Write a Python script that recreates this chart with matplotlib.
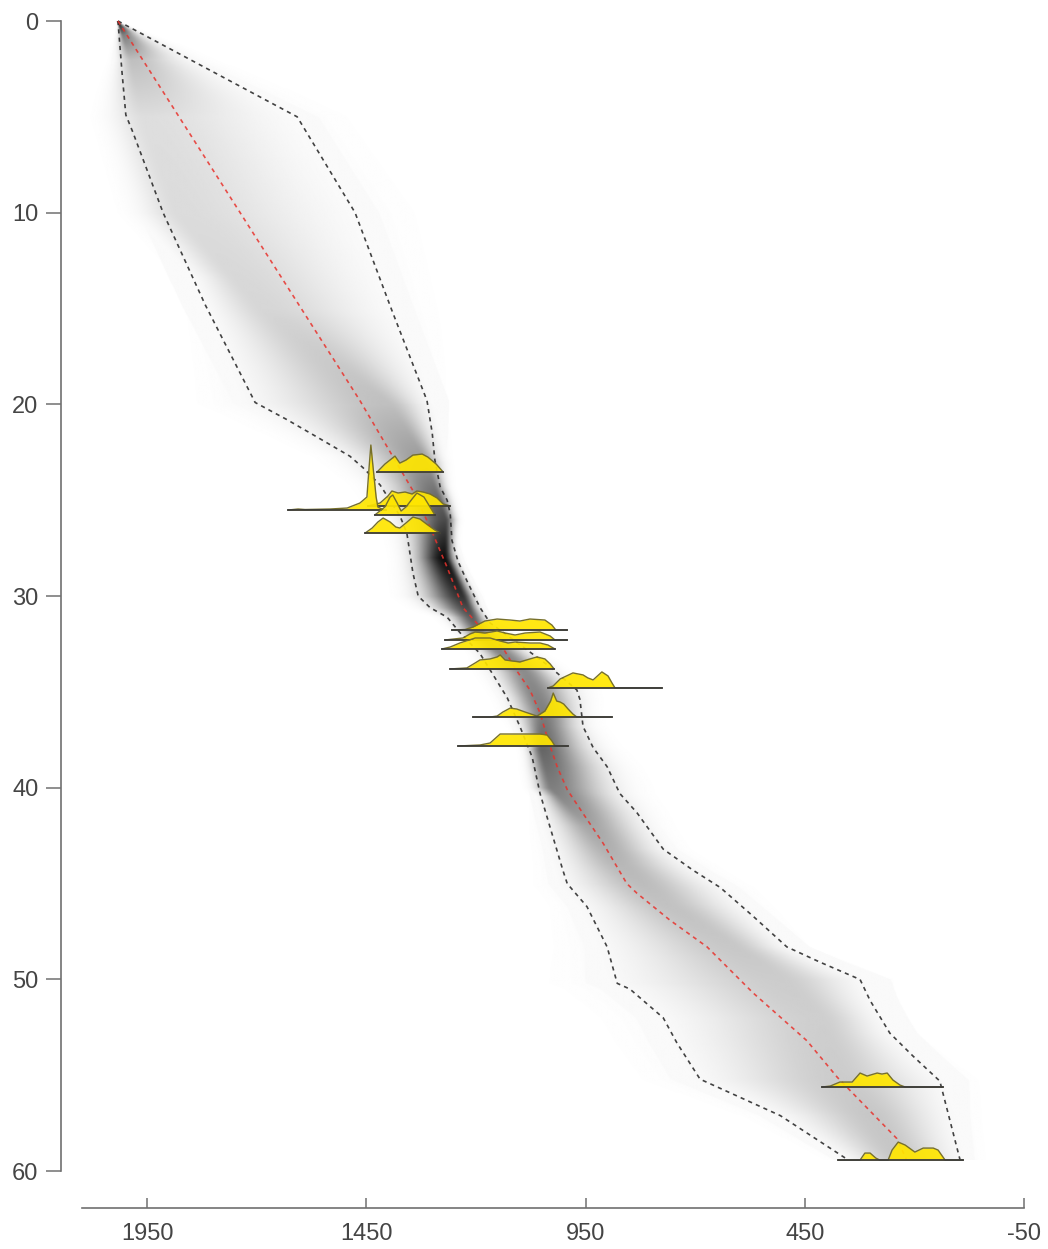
import numpy as np
import matplotlib
matplotlib.use("Agg")
import matplotlib.pyplot as plt
from matplotlib.colors import LinearSegmentedColormap

plt.rcParams["font.family"] = ["Liberation Sans", "DejaVu Sans"]

# ---- age-depth model: 95% envelope and mean (depth, age) ----
old_depth = [0, 2.6, 4.9, 5.8, 10.0, 14.8, 19.9, 20.8, 21.7, 22.7, 23.3, 24.2, 25.8,
             26.7, 28.8, 30.0, 30.6, 31.1, 31.9, 33.0, 34.0, 35.3, 36.8, 38.4, 40.3,
             44.3, 45.0, 46.2, 48.3, 50.2, 50.5, 52.0, 53.3, 55.2, 57.1, 59.4]
old_age = [2017, 2008, 1999, 1983, 1914, 1818, 1704, 1631, 1563, 1488, 1458, 1419, 1374,
           1358, 1344, 1332, 1305, 1266, 1237, 1191, 1164, 1129, 1100, 1072, 1054,
           1002, 992, 947, 901, 878, 849, 773, 742, 689, 506, 352]

young_depth = [0, 5.0, 10.0, 15.1, 19.8, 21.5, 22.9, 24.3, 25.0, 25.7, 27.1, 28.2, 29.2,
               30.6, 31.4, 32.8, 33.7, 34.9, 35.4, 36.8, 37.9, 38.9, 40.3, 41.3, 43.2,
               44.3, 45.2, 46.7, 48.3, 49.1, 50.0, 51.1, 52.8, 54.0, 55.3, 59.4]
young_age = [2017, 1608, 1476, 1392, 1312, 1300, 1294, 1282, 1266, 1259, 1255, 1241, 1221,
             1191, 1168, 1084, 1031, 970, 963, 956, 933, 901, 872, 833, 773,
             705, 643, 568, 491, 415, 324, 301, 256, 203, 142, 96]

mean_depth = [0, 19.8, 24.5, 26.4, 28.5, 30.6, 31.6, 32.7, 33.9, 34.9, 36.1, 37.5, 38.9,
              40.1, 41.1, 42.9, 45.0, 45.5, 46.9, 48.3, 50.7, 53.2, 55.1, 58.3, 59.4]
mean_age = [2017, 1465, 1344, 1305, 1266, 1230, 1191, 1139, 1107, 1077, 1054, 1036, 1015,
            992, 963, 910, 856, 833, 758, 673, 568, 445, 376, 240, 218]

# ---- grey-scale density of the model: mode and relative darkness ----
shade_depth = [0, 0.7, 2, 5, 10, 15, 20, 23, 26, 28, 30, 32, 34, 36, 38, 40, 42, 44,
               46, 48, 50, 52, 55, 57, 59.4]
shade_mode = [2017, 2005, 1985, 1955, 1875, 1682, 1400, 1317, 1271, 1273, 1232, 1191,
              1088, 1047, 1050, 1027, 940, 872, 769, 632, 506, 415, 370, 301, 233]
shade_peak = [0.9, 0.5, 0.25, 0.13, 0.14, 0.16, 0.25, 0.4, 0.7, 0.95, 0.8, 0.5, 0.45,
              0.5, 0.6, 0.5, 0.35, 0.28, 0.24, 0.22, 0.2, 0.19, 0.2, 0.22, 0.22]

# ---- calibrated dates: depth, ages and relative probability ----
date1_depth = 23.53
date1_age = [1426, 1408, 1385, 1374, 1360, 1344, 1323, 1310, 1291, 1275]
date1_dens = [0, 8, 16, 9, 12, 17, 18, 15, 8, 0]

date2_depth = 25.30
date2_age = [1447, 1419, 1401, 1392, 1378, 1362, 1346, 1335, 1321, 1305, 1289, 1275, 1259]
date2_dens = [0, 3, 10, 15, 13, 14, 12, 15, 14, 12, 8, 2, 0]

date3_depth = 25.51
date3_age = [1629, 1606, 1590, 1533, 1494, 1465, 1449, 1444, 1440, 1435, 1428, 1424, 1412, 1405]
date3_dens = [0, 1, 0.5, 1, 2, 7, 13, 43, 65, 43, 13, 3, 0.5, 0]

date4_depth = 25.77
date4_age = [1431, 1408, 1396, 1390, 1380, 1371, 1360, 1346, 1335, 1319, 1305, 1294]
date4_dens = [0, 8, 18, 20, 12, 4, 8, 16, 22, 18, 8, 0]

date5_depth = 26.71
date5_age = [1453, 1437, 1424, 1412, 1396, 1383, 1374, 1360, 1344, 1328, 1310, 1294, 1282]
date5_dens = [0, 5, 11, 15, 11, 6, 5, 10, 16, 14, 8, 3, 0]

date6_depth = 31.77
date6_age = [1255, 1225, 1207, 1180, 1152, 1122, 1100, 1077, 1043, 1027, 1018, 992]
date6_dens = [0, 0.5, 3, 9, 11, 10, 9, 11, 10, 5, 0, 0]

date7_depth = 32.29
date7_age = [1271, 1230, 1214, 1202, 1180, 1152, 1134, 1111, 1088, 1054, 1031, 1020, 992]
date7_dens = [0, 2, 6, 8, 7, 9, 7, 5, 7, 8, 4, 0, 0]

date8_depth = 32.76
date8_age = [1278, 1259, 1237, 1202, 1168, 1145, 1127, 1111, 1077, 1054, 1036, 1020]
date8_dens = [0, 2, 6, 11, 11, 8, 6, 7, 6, 6, 4, 0]

date9_depth = 33.80
date9_age = [1259, 1221, 1202, 1191, 1168, 1152, 1145, 1134, 1118, 1100, 1077, 1061, 1043, 1031, 1022]
date9_dens = [0, 1, 6, 9, 10, 12, 14, 9, 8, 7, 10, 12, 10, 5, 0]

date10_depth = 34.79
date10_age = [1036, 1024, 1008, 979, 956, 945, 933, 913, 899, 890, 883, 776]
date10_dens = [0, 2, 9, 15, 13, 10, 8, 16, 12, 5, 0, 0]

date11_depth = 36.31
date11_age = [1207, 1168, 1152, 1139, 1122, 1107, 1088, 1061, 1043, 1030, 1024, 1016,
              1008, 1000, 990, 979, 970, 890]
date11_dens = [0, 0, 1, 5, 9, 8, 5, 1, 6, 16, 24, 16, 15, 13, 8, 3, 0, 0]

date12_depth = 37.82
date12_age = [1241, 1191, 1168, 1145, 1100, 1054, 1038, 1027, 1020, 990]
date12_dens = [0, 1, 3, 12, 12, 12, 11, 5, 0, 0]

date13_depth = 55.61
date13_age = [411, 392, 370, 342, 324, 308, 285, 274, 262, 249, 233, 221, 135]
date13_dens = [0, 1, 5, 5, 14, 11, 14, 13, 14, 7, 2, 0, 0]

date14_depth = 59.42
date14_age = [374, 324, 313, 301, 288, 279, 260, 251, 237, 221, 199, 180, 157, 146, 130, 89]
date14_dens = [0, 0, 7, 7, 2, 0, 0, 10, 18, 15, 8, 12, 12, 10, 0, 0]

depth_ticks = [0, 10, 20, 30, 40, 50, 60]
age_ticks = [1950, 1450, 950, 450, -50]

dates = [
    (date1_depth, date1_age, date1_dens),
    (date2_depth, date2_age, date2_dens),
    (date3_depth, date3_age, date3_dens),
    (date4_depth, date4_age, date4_dens),
    (date5_depth, date5_age, date5_dens),
    (date6_depth, date6_age, date6_dens),
    (date7_depth, date7_age, date7_dens),
    (date8_depth, date8_age, date8_dens),
    (date9_depth, date9_age, date9_dens),
    (date10_depth, date10_age, date10_dens),
    (date11_depth, date11_age, date11_dens),
    (date12_depth, date12_age, date12_dens),
    (date13_depth, date13_age, date13_dens),
    (date14_depth, date14_age, date14_dens),
]

# ---- figure ----
W, H = 1048, 1249
fig = plt.figure(figsize=(W / 100, H / 100), dpi=100)
ax_left_px, ax_right_px, ax_top_px, ax_bot_px = 61, 1024, 15, 1208
ax = fig.add_axes([ax_left_px / W, 1 - ax_bot_px / H,
                   (ax_right_px - ax_left_px) / W, (ax_bot_px - ax_top_px) / H])

# grey-scale model density
dg = np.arange(0, 59.4 + 1e-9, 0.05)
ag = np.arange(-50, 2150.5, 1.0)
hi = np.interp(dg, old_depth, old_age)
lo = np.interp(dg, young_depth, young_age)
cen = np.interp(dg, shade_depth, shade_mode)
pk = np.interp(dg, shade_depth, shade_peak)
width = hi - lo
sl = np.maximum(np.maximum((hi - cen) / 2.0, 0.12 * width), 1.5)[:, None]
sr = np.maximum(np.maximum((cen - lo) / 2.0, 0.12 * width), 1.5)[:, None]
A = ag[None, :]
C = cen[:, None]
z = np.where(A > C, (A - C) / sl, (A - C) / sr)
img = pk[:, None] * np.exp(-0.5 * z ** 2)
ext = 0.12 * width[:, None] + 3
faint = (A < hi[:, None] + ext) & (A > lo[:, None] - ext)
img = np.where(faint, np.maximum(img, 0.022), img)

grey = LinearSegmentedColormap.from_list("wk", ["#ffffff", "#000000"])
ax.imshow(img, cmap=grey, vmin=0, vmax=1, aspect="auto", origin="upper",
          extent=[ag[0] - 0.5, ag[-1] + 0.5, dg[-1], dg[0]],
          interpolation="bilinear", zorder=1)

# envelope and mean
ax.plot(old_age, old_depth, color="#222222", lw=1.2, dashes=(2.5, 2.5), alpha=0.85, zorder=3)
ax.plot(young_age, young_depth, color="#222222", lw=1.2, dashes=(2.5, 2.5), alpha=0.85, zorder=3)
ax.plot(mean_age, mean_depth, color="#e8322c", lw=1.2, dashes=(2.5, 2.5), alpha=0.85, zorder=3)

# calibrated date distributions
dens_scale = 1 / 19.17
for i, (d, a, p) in enumerate(dates):
    a = np.asarray(a, float)
    top = d - np.asarray(p, float) * dens_scale
    z0 = 5 + i * 0.01
    ax.fill_between(a, d, top, color="#ffe600", alpha=0.92, lw=0, zorder=z0)
    ax.plot(a, top, color="#77702a", lw=1.0, zorder=z0 + 0.002)
    ax.plot([a.min(), a.max()], [d, d], color="#3a3a3a", lw=1.3, zorder=z0 + 0.004)

# axes
ax.set_xlim(2146.9, -50)
ax.set_ylim(61.92, -0.313)
for s in ["top", "right"]:
    ax.spines[s].set_visible(False)
spine_col = "#707070"
ax.spines["left"].set_bounds(0, 60)
ax.spines["bottom"].set_bounds(2100, -50)
for s in ["left", "bottom"]:
    ax.spines[s].set_color(spine_col)
    ax.spines[s].set_linewidth(1.2)

ax.set_yticks(depth_ticks)
ax.set_yticklabels([str(t) for t in depth_ticks])
ax.set_xticks(age_ticks)
ax.set_xticklabels([str(t) for t in age_ticks])
ax.tick_params(axis="y", direction="out", length=10.8, width=1.1, color=spine_col,
               labelsize=17, labelcolor="#454545", pad=5.5)
ax.tick_params(axis="x", direction="in", length=7, width=1.1, color=spine_col,
               labelsize=17, labelcolor="#454545", pad=10.5)
ax.patch.set_alpha(0)

fig.savefig("out.png", dpi=100)
